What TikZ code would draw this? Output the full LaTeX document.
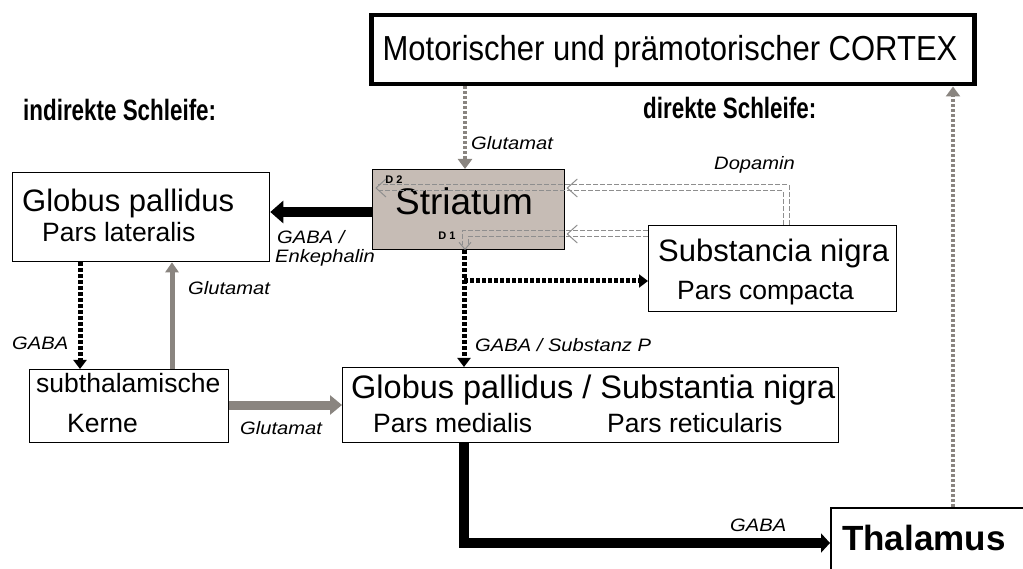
\documentclass[tikz,border=0pt]{standalone}
\usepackage{fontspec}
\setmainfont{Liberation Sans}
\usepackage{graphicx}
\usetikzlibrary{arrows.meta,calc}
\definecolor{strfill}{HTML}{C6BCB5}
\definecolor{warmgray}{HTML}{8A8580}
\definecolor{dopgray}{HTML}{8E8E8E}
\newcommand{\lb}[1]{\scalebox{1.12}[1]{#1}}
\newcommand{\hd}[1]{\scalebox{0.8}[1.05]{#1}}
\tikzset{
  box/.style={draw, rectangle, line width=1.3pt, inner sep=0pt, anchor=north west},
  lbl/.style={font=\fontsize{18}{18}\selectfont\itshape, inner sep=0pt},
  heading/.style={font=\fontsize{28}{28}\selectfont\bfseries, inner sep=0pt, anchor=west},
  big/.style={font=\fontsize{31}{31}\selectfont, inner sep=0pt, anchor=base west},
  mid/.style={font=\fontsize{26.5}{26.5}\selectfont, inner sep=0pt, anchor=base west},
  gdot/.style={draw=warmgray, line width=4.5pt, dash pattern=on 3pt off 2pt,
     -{Triangle[length=10pt,width=14pt]}},
  bdot/.style={draw=black, line width=5pt, dash pattern=on 3.5pt off 2.5pt,
     -{Triangle[length=9pt,width=13pt]}},
  garr/.style={draw=warmgray, fill=warmgray},
  dop/.style={draw=dopgray, line width=1pt, dash pattern=on 5pt off 2pt},
  dopchev/.style={draw=dopgray, line width=1pt}
}
\begin{document}
\begin{tikzpicture}[x=1pt,y=-1pt]
\useasboundingbox (0,0) rectangle (1023,569);
\clip (0,0) rectangle (1023,569);

% helper coordinates
\coordinate (xa) at (465,0);
\coordinate (xb) at (464,0);
\coordinate (xc) at (786,0);
\coordinate (xd) at (953,0);
\coordinate (xe) at (80,0);
\coordinate (xf) at (172,0);
\coordinate (xg) at (465,0);
\coordinate (ya) at (0,212);
\coordinate (yb) at (0,405);
\coordinate (yc) at (0,281);
\coordinate (yd) at (0,543);
\coordinate (ye) at (0,188);
\coordinate (yf) at (0,234);

% boxes
\node[box, line width=4.5pt, minimum width=603pt, minimum height=69pt] (cortex) at (369,13) {};
\node[box, fill=strfill, minimum width=192pt, minimum height=80pt] (str) at (372,169) {};
\node[box, minimum width=257pt, minimum height=89pt] (gpl) at (12,172) {};
\node[box, minimum width=199pt, minimum height=73pt] (sub) at (29,369) {};
\node[box, minimum width=248pt, minimum height=86pt] (snig) at (648,225) {};
\node[box, minimum width=496pt, minimum height=75pt] (gpsn) at (342,367) {};
\node[box, line width=1.5pt, minimum width=250pt, minimum height=100pt] (thal) at (830,507) {};

% headings
\node[heading] (indir) at (23,110) {\hd{indirekte Schleife:}};
\node[heading] (dir) at (643,108) {\hd{direkte Schleife:}};

% box texts
\node[font=\fontsize{31}{31}\selectfont, inner sep=0pt, anchor=base] (cortxt) at (670,61) {\scalebox{1}[1.12]{Motorischer und prämotorischer CORTEX}};
\node[font=\fontsize{37}{37}\selectfont, inner sep=0pt, anchor=base] (strtxt) at (464,215) {Striatum};
\node[font=\fontsize{11}{11}\selectfont\bfseries, inner sep=0pt] (d2) at (394,180) {D 2};
\node[font=\fontsize{11}{11}\selectfont\bfseries, inner sep=0pt] (d1) at (447,236) {D 1};
\node[big] (gpl1) at (22,212) {Globus pallidus};
\node[mid] (gpl2) at (42,242) {Pars lateralis};
\node[mid] (sub1) at (36,392) {subthalamische};
\node[mid] (sub2) at (67,432) {Kerne};
\node[big] (sn1) at (658,262) {Substancia nigra};
\node[mid] (sn2) at (677,300) {Pars compacta};
\node[big, font=\fontsize{32.5}{32.5}\selectfont] (gs1) at (351,398) {Globus pallidus / Substantia nigra};
\node[mid] (gs2) at (373,432) {Pars medialis};
\node[mid] (gs3) at (607,432) {Pars reticularis};
\node[font=\fontsize{35}{35}\selectfont\bfseries, inner sep=0pt, anchor=base west] (th1) at (842,550) {Thalamus};

% connectors
\draw[gdot] (cortex.south -| xa) -- (str.north -| xa);
\draw[line width=10pt, -{Triangle[length=13pt,width=22pt]}] (str.west |- ya) -- (gpl.east |- ya);
\draw[bdot] (gpl.south -| xe) -- (sub.north -| xe);
\draw[garr, line width=5pt, -{Triangle[length=10pt,width=13pt]}] (sub.north -| xf) -- (gpl.south -| xf);
\draw[garr, line width=9pt, -{Triangle[length=12pt,width=19pt]}] (sub.east |- yb) -- (gpsn.west |- yb);
\draw[bdot] (str.south -| xb) -- (gpsn.north -| xb);
\draw[bdot] (xb |- yc) -- (snig.west |- yc);
\draw[line width=10pt, line join=miter, -{Triangle[length=9pt,width=19pt]}] (gpsn.south -| xb) |- (thal.west |- yd);
\draw[gdot] (thal.north -| xd) -- (cortex.south -| xd);

% dopamine (double dashed)
\draw[dop] ($(snig.north -| xc)+(3,0)$) -- ($(xc |- ye)+(3,-3)$) -- ($(str.west |- ye)+(6,-3)$);
\draw[dop] ($(snig.north -| xc)+(-3,0)$) -- ($(xc |- ye)+(-3,3)$) -- ($(str.west |- ye)+(6,3)$);
\draw[dopchev] ($(str.east |- ye)+(12,-9)$) -- ($(str.east |- ye)+(2,0)$) -- ($(str.east |- ye)+(12,9)$);
\draw[dopchev] ($(str.west |- ye)+(14,-9)$) -- ($(str.west |- ye)+(4,0)$) -- ($(str.west |- ye)+(14,9)$);
\draw[dop] ($(snig.west |- yf)+(0,-3)$) -- ($(xg |- yf)+(-3,-3)$) -- ($(xg |- str.south)+(-3,-5)$);
\draw[dop] ($(snig.west |- yf)+(0,3)$) -- ($(xg |- yf)+(3,3)$) -- ($(xg |- str.south)+(3,-5)$);
\draw[dopchev] ($(str.east |- yf)+(12,-9)$) -- ($(str.east |- yf)+(2,0)$) -- ($(str.east |- yf)+(12,9)$);
\draw[dopchev] ($(xg |- str.south)+(-6,-8)$) -- ($(xg |- str.south)+(0,-1)$) -- ($(xg |- str.south)+(6,-8)$);

% labels
\node[lbl, anchor=west] (lg1) at (471,143) {\lb{Glutamat}};
\node[lbl, anchor=west] (ldop) at (714,165) {\lb{Dopamin}};
\node[lbl, anchor=west] (lge1) at (277,237) {\lb{GABA /}};
\node[lbl, anchor=west] (lge2) at (275,258) {\lb{Enkephalin}};
\node[lbl, anchor=west] (lg2) at (188,288) {\lb{Glutamat}};
\node[lbl, anchor=west] (lgaba1) at (12,343) {\lb{GABA}};
\node[lbl, anchor=west] (lgsp) at (475,345) {\lb{GABA / Substanz P}};
\node[lbl, anchor=west] (lg3) at (240,428) {\lb{Glutamat}};
\node[lbl, anchor=west] (lgaba2) at (730,525) {\lb{GABA}};
\end{tikzpicture}
\end{document}
